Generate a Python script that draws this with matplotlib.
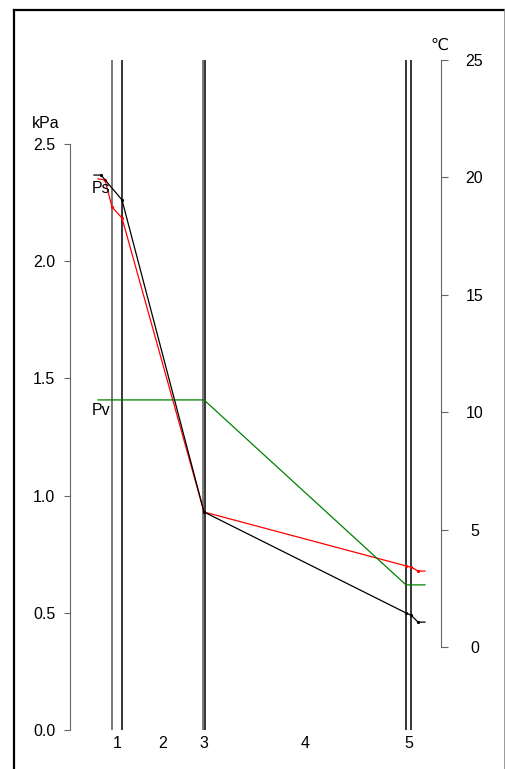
import matplotlib.pyplot as plt
from matplotlib.lines import Line2D

plt.rcParams['font.family'] = ['Liberation Sans', 'DejaVu Sans']

# толщины слоёв (усл. ед.) и границы
layer_edges = [0, 10, 91, 93, 294, 299]
edge_colors = ['#555555', 'black', '#555555', 'black', 'black', 'black']
layer_names = ['1', '2', '3', '4', '5']

# температура, °C (правая ось)
t_x = [-18, -11, 10, 92, 294, 299, 306, 313]
t_val = [20.1, 20.1, 19.04, 5.75, 1.45, 1.36, 1.06, 1.06]

# давление насыщенного пара Ps, кПа
ps_x = [-14, -7, 0, 10, 92, 294, 299, 306, 313]
ps_val = [2.351, 2.346, 2.231, 2.184, 0.930, 0.700, 0.695, 0.678, 0.678]

# парциальное давление пара Pv, кПа
pv_x = [-14, 92, 294, 313]
pv_val = [1.408, 1.408, 0.619, 0.619]

W, H = 506, 769
fig = plt.figure(figsize=(W / 100, H / 100), dpi=100)
ax = fig.add_axes([70 / W, 1 - 730 / H, 371 / W, 670 / H])
ax2 = ax.twinx()

ax.set_xlim(-42, 329)
ax.set_ylim(0, 2.858)
ax2.set_ylim(-3.535, 25)

for x, c in zip(layer_edges, edge_colors):
    ax.axvline(x, color=c, lw=1.1, zorder=1)

# точки только во внутренних узлах
ax.plot(ps_x, ps_val, color='red', lw=0.9, marker='o', ms=1.3,
        markevery=list(range(1, len(ps_x) - 1)), zorder=3)
ax.plot(pv_x, pv_val, color='green', lw=0.9, zorder=3)
ax2.plot(t_x, t_val, color='black', lw=0.9, marker='o', ms=1.3,
         markevery=list(range(1, len(t_x) - 1)), zorder=3)

ax.text(-11, 2.31, 'Ps', fontsize=11.5, ha='center', va='center')
ax.text(-11, 1.365, 'Pv', fontsize=11.5, ha='center', va='center')

# оси
for s in ['top', 'bottom', 'right']:
    ax.spines[s].set_visible(False)
for s in ['top', 'bottom', 'left']:
    ax2.spines[s].set_visible(False)
ax.spines['left'].set_bounds(0, 2.5)
ax.spines['left'].set_color('#666666')
ax2.spines['right'].set_bounds(0, 25)
ax2.spines['right'].set_color('#666666')

ax.set_yticks([0, 0.5, 1.0, 1.5, 2.0, 2.5])
ax.set_yticklabels(['0.0', '0.5', '1.0', '1.5', '2.0', '2.5'])
ax.set_yticks([0, 2.5], minor=True)
ax.tick_params(axis='y', which='major', direction='out', length=4.5, color='#666666',
               labelsize=11.5, pad=6)
ax.tick_params(axis='y', which='minor', direction='inout', length=10, color='#666666')

ax2.set_yticks([0, 5, 10, 15, 20, 25])
ax2.set_yticks([0, 25], minor=True)
ax2.tick_params(axis='y', which='major', direction='out', length=5, color='#666666',
                labelsize=11.5, pad=19)
ax2.tick_params(axis='y', which='minor', direction='inout', length=10, color='#666666')
for lab in ax2.get_yticklabels():
    lab.set_horizontalalignment('center')

mids = [(layer_edges[0] + layer_edges[1]) / 2, (layer_edges[1] + layer_edges[2]) / 2,
        (layer_edges[2] + layer_edges[3]) / 2, (layer_edges[3] + layer_edges[4]) / 2,
        (layer_edges[4] + layer_edges[5]) / 2]
ax.set_xticks(mids)
ax.set_xticklabels(layer_names)
ax.tick_params(axis='x', length=0, labelsize=11.5, pad=4)

fig.text(46 / W, 1 - 124 / H, 'kPa', fontsize=11.5, ha='center', va='center')
fig.text(439 / W, 1 - 45 / H, '℃', fontsize=11.5, ha='center', va='center')

# рамка
fig.add_artist(Line2D([14 / W, 14 / W], [0, 1 - 10 / H], color='black', lw=1.6))
fig.add_artist(Line2D([14 / W, 505 / W], [1 - 10 / H, 1 - 10 / H], color='black', lw=1.6))
fig.add_artist(Line2D([505 / W, 505 / W], [0, 1 - 10 / H], color='#888888', lw=1.2))

fig.savefig('out.png', dpi=100)
